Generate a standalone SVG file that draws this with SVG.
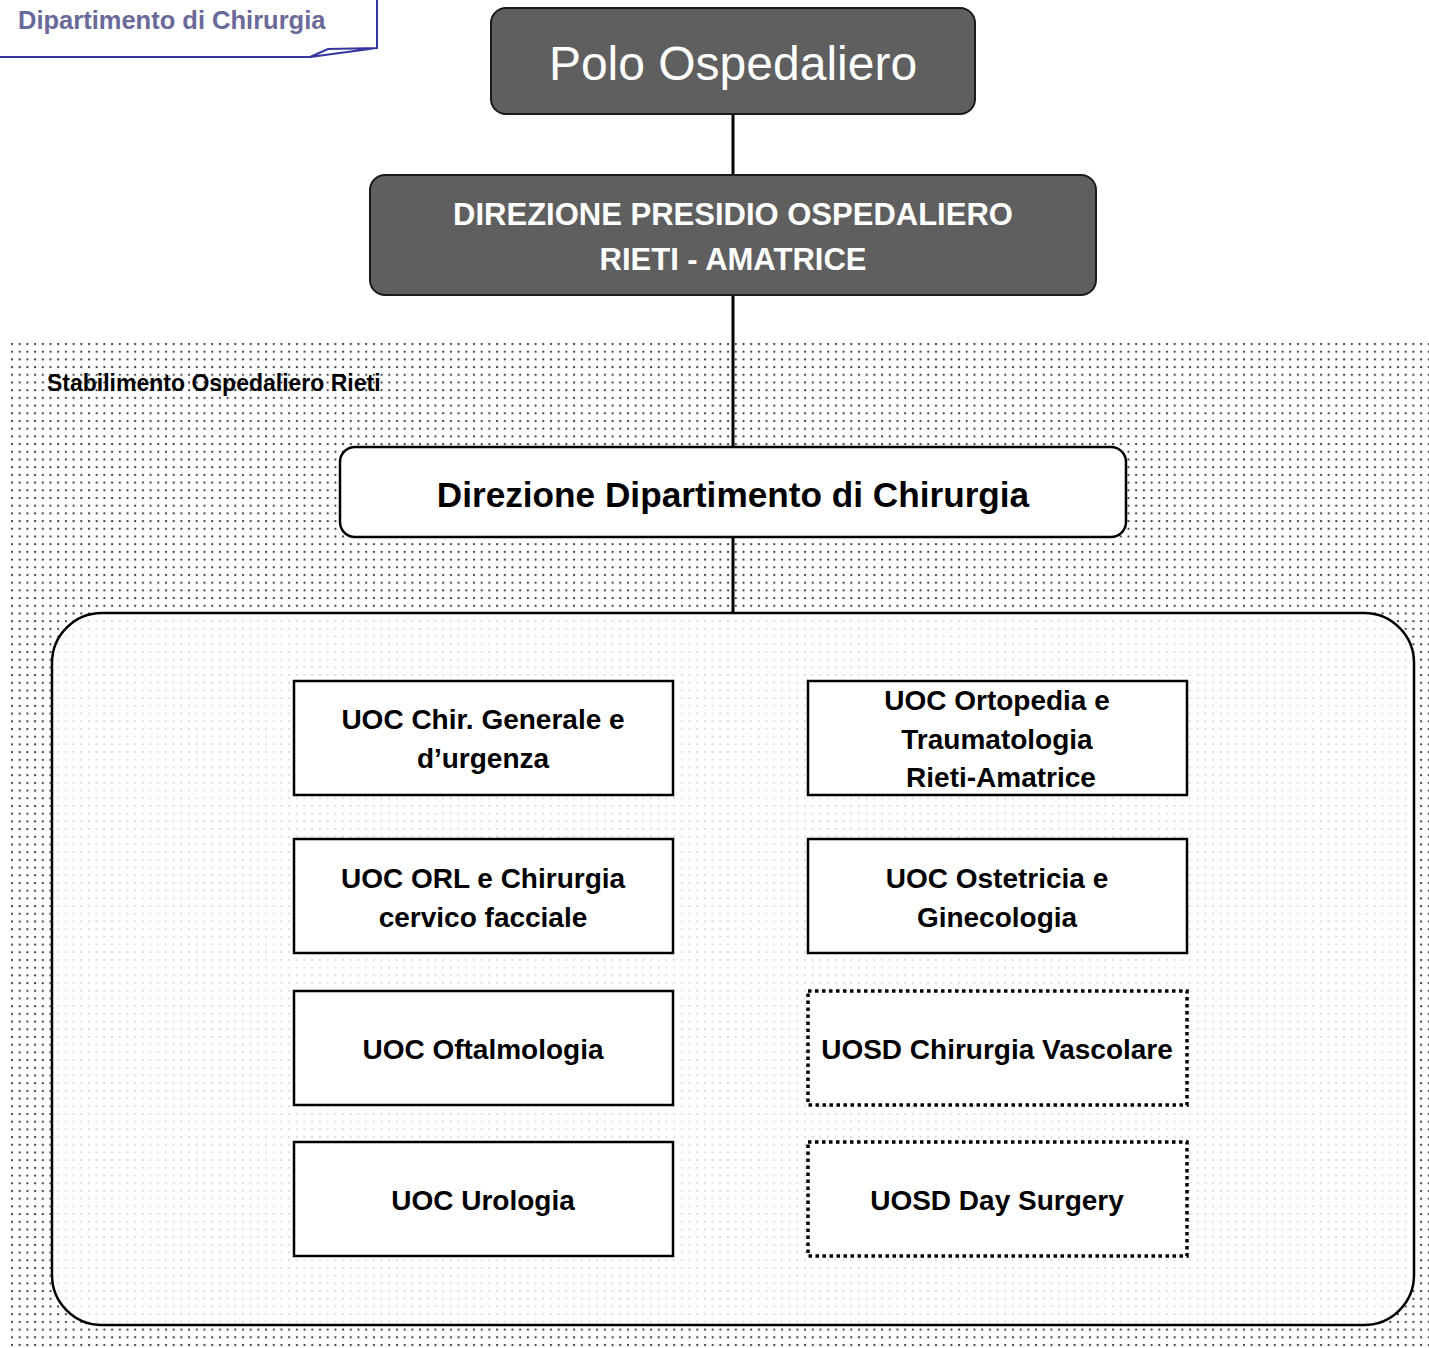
<svg xmlns="http://www.w3.org/2000/svg" width="1429" height="1348" viewBox="0 0 1429 1348">
<defs>
<pattern id="dotsDark" width="7.7" height="7.7" patternUnits="userSpaceOnUse" x="10" y="342">
<rect x="1" y="1" width="2" height="2" fill="#444"/>
</pattern>
<pattern id="dotsLight" width="7.7" height="7.7" patternUnits="userSpaceOnUse" x="10" y="342">
<rect x="1" y="1" width="1.6" height="1.6" fill="#cfcfcf"/>
</pattern>
</defs>
<style>
.dark{fill:#5f5f5f;stroke:#1a1a1a;stroke-width:2}
.box{fill:#fff;stroke:#000;stroke-width:2.5}
.dbox{fill:#fff;stroke:#000;stroke-width:3.5;stroke-dasharray:3.5 3.5}
.t{font-family:"Liberation Sans",Arial,sans-serif;font-weight:bold;text-anchor:middle;fill:#000}
.bt{font-size:28px}
.conn{stroke:#000;stroke-width:3;fill:none}
</style>
<rect width="1429" height="1348" fill="#fff"/>
<!-- dotted background -->
<rect x="10" y="342" width="1419" height="1006" fill="url(#dotsDark)"/>
<g id="header-label">
<text x="18" y="29" font-family="Liberation Sans,Arial,sans-serif" font-weight="bold" font-size="25.5" fill="#6a6a9a">Dipartimento di Chirurgia</text>
<path d="M0 57 L310 57 L328 49 L377 48 L377 0 M310 57 L377 48" fill="none" stroke="#3535a0" stroke-width="2"/>
</g>
<g id="stabilimento-label">
<text x="47" y="391" font-family="Liberation Sans,Arial,sans-serif" font-weight="bold" font-size="23" fill="#000">Stabilimento Ospedaliero Rieti</text>
</g>
<g id="connectors">
<line class="conn" x1="733" y1="114" x2="733" y2="175"/>
<line class="conn" x1="733" y1="295" x2="733" y2="447"/>
<line class="conn" x1="733" y1="537" x2="733" y2="613"/>
</g>
<g id="polo">
<rect class="dark" x="491" y="8" width="484" height="106" rx="15"/>
<text x="733" y="80" font-family="Liberation Sans,Arial,sans-serif" font-size="48" text-anchor="middle" fill="#fff">Polo Ospedaliero</text>
</g>
<g id="direzione-presidio">
<rect class="dark" x="370" y="175" width="726" height="120" rx="15"/>
<text class="t" x="733" y="225" font-size="31" style="fill:#fff">DIREZIONE PRESIDIO OSPEDALIERO</text>
<text class="t" x="733" y="270" font-size="31" style="fill:#fff">RIETI - AMATRICE</text>
</g>
<g id="direzione-dipartimento">
<rect class="box" x="340" y="447" width="786" height="90" rx="15"/>
<text class="t" x="733" y="507" font-size="35.2">Direzione Dipartimento di Chirurgia</text>
</g>
<g id="container">
<rect x="52" y="613" width="1362" height="712" rx="50" fill="#fff"/>
<rect x="52" y="613" width="1362" height="712" rx="50" fill="url(#dotsLight)" stroke="#000" stroke-width="2.5"/>
</g>
<g id="uoc-chir-generale">
<rect class="box" x="294" y="681" width="379" height="114"/>
<text class="t bt" x="483" y="729">UOC Chir. Generale e</text>
<text class="t bt" x="483" y="768">d’urgenza</text>
</g>
<g id="uoc-ortopedia">
<rect class="box" x="808" y="681" width="379" height="114"/>
<text class="t bt" x="997" y="710">UOC Ortopedia e</text>
<text class="t bt" x="997" y="749">Traumatologia</text>
<text class="t bt" x="1001" y="787">Rieti-Amatrice</text>
</g>
<g id="uoc-orl">
<rect class="box" x="294" y="839" width="379" height="114"/>
<text class="t bt" x="483" y="888">UOC ORL e Chirurgia</text>
<text class="t bt" x="483" y="927">cervico facciale</text>
</g>
<g id="uoc-ostetricia">
<rect class="box" x="808" y="839" width="379" height="114"/>
<text class="t bt" x="997" y="888">UOC Ostetricia e</text>
<text class="t bt" x="997" y="927">Ginecologia</text>
</g>
<g id="uoc-oftalmologia">
<rect class="box" x="294" y="991" width="379" height="114"/>
<text class="t bt" x="483" y="1059">UOC Oftalmologia</text>
</g>
<g id="uosd-chir-vascolare">
<rect class="dbox" x="808" y="991" width="379" height="114"/>
<text class="t bt" x="997" y="1059">UOSD Chirurgia Vascolare</text>
</g>
<g id="uoc-urologia">
<rect class="box" x="294" y="1142" width="379" height="114"/>
<text class="t bt" x="483" y="1210">UOC Urologia</text>
</g>
<g id="uosd-day-surgery">
<rect class="dbox" x="808" y="1142" width="379" height="114"/>
<text class="t bt" x="997" y="1210">UOSD Day Surgery</text>
</g>
</svg>
